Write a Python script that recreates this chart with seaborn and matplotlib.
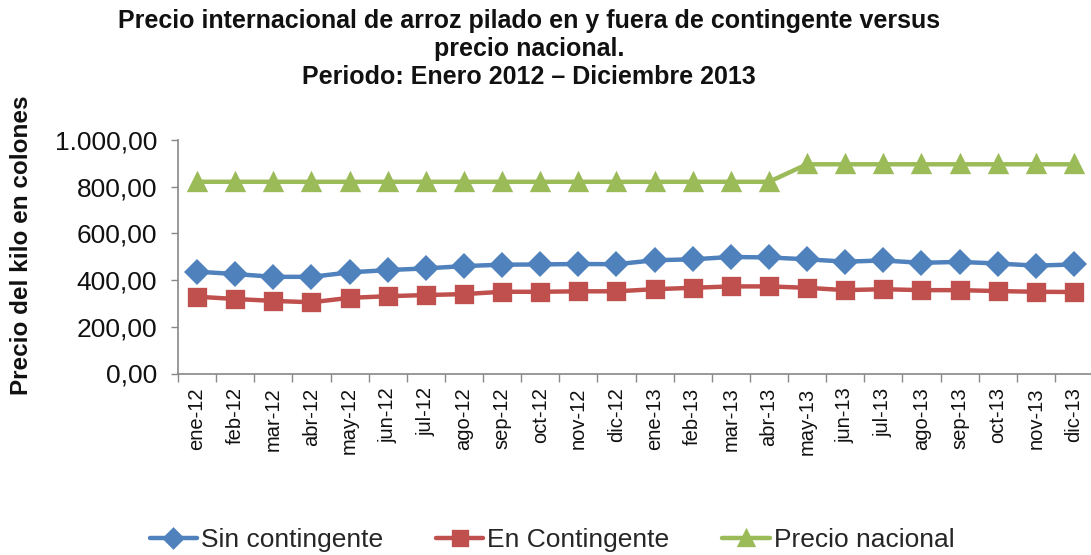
import matplotlib
matplotlib.use("Agg")
import matplotlib.pyplot as plt
import seaborn as sns
import pandas as pd
from matplotlib.ticker import FuncFormatter, FixedLocator

months = ["ene-12", "feb-12", "mar-12", "abr-12", "may-12", "jun-12", "jul-12", "ago-12",
          "sep-12", "oct-12", "nov-12", "dic-12", "ene-13", "feb-13", "mar-13", "abr-13",
          "may-13", "jun-13", "jul-13", "ago-13", "sep-13", "oct-13", "nov-13", "dic-13"]

sin_contingente = [436, 426, 414, 414, 433, 443, 450, 460, 466, 467, 469, 468,
                   485, 489, 499, 497, 489, 479, 484, 474, 478, 471, 462, 467]
en_contingente = [329, 319, 311, 305, 324, 331, 336, 340, 350, 350, 352, 352,
                  361, 367, 373, 373, 367, 357, 361, 357, 357, 353, 350, 349]
precio_nacional = [821] * 16 + [896] * 8

series_names = ["Sin contingente", "En Contingente", "Precio nacional"]
colors = ["#4F81BD", "#C0504D", "#9BBB59"]

df = pd.DataFrame({
    "mes": months * 3,
    "precio": sin_contingente + en_contingente + precio_nacional,
    "serie": [series_names[0]] * 24 + [series_names[1]] * 24 + [series_names[2]] * 24,
})

sns.set_theme(style="white")
plt.rcParams["font.family"] = ["Liberation Sans", "DejaVu Sans"]

W, H = 1091, 555
fig = plt.figure(figsize=(W / 100, H / 100), dpi=100)
ax = fig.add_axes([178 / W, (H - 373.5) / H, (1093 - 178) / W, 233.5 / H])

sns.pointplot(data=df, x="mes", y="precio", hue="serie", order=months,
              hue_order=series_names, palette=colors,
              markers=["D", "s", "^"], linestyles=["-", "-", "-"],
              markersize=12, linewidth=3.2, ax=ax, legend=True)

for line, ms in zip(ax.lines[:3], [13, 14, 15]):
    line.set_markersize(ms)
    line.set_markeredgewidth(0)

ax.set_ylim(0, 1000)
ax.set_xlim(-0.5, 23.5)
ax.set_yticks([0, 200, 400, 600, 800, 1000])
ax.yaxis.set_major_formatter(FuncFormatter(
    lambda v, p: f"{v:,.2f}".replace(",", "X").replace(".", ",").replace("X", ".")))
ax.set_xlabel("")
ax.set_ylabel("")

for s in ["top", "right"]:
    ax.spines[s].set_visible(False)
for s in ["left", "bottom"]:
    ax.spines[s].set_color("#888888")
    ax.spines[s].set_linewidth(1.2)

ax.tick_params(axis="y", which="major", left=True, length=5, width=1, color="#888888",
               direction="out", pad=10, labelsize=19, labelcolor="#111111")
ax.tick_params(axis="x", which="major", length=0, pad=10, labelsize=14.5,
               labelrotation=90, labelcolor="#111111")
ax.xaxis.set_minor_locator(FixedLocator([i - 0.5 for i in range(25)]))
ax.tick_params(axis="x", which="minor", bottom=True, length=6, width=1, color="#888888",
               direction="out")

fig.text(22 / W, 1 - 245 / H, "Precio del kilo en colones", rotation=90,
         ha="center", va="center", fontsize=17.5, fontweight="bold", color="#111111")

fig.text(529 / W, 1 - 9 / H,
         "Precio internacional de arroz pilado en y fuera de contingente versus\n"
         "precio nacional.\nPeriodo: Enero 2012 \u2013 Diciembre 2013",
         ha="center", va="top", fontsize=18, fontweight="bold", color="#111111",
         linespacing=1.22)

handles, labels = ax.get_legend_handles_labels()
ax.legend_.remove()
fig.legend(handles, labels, loc="center", bbox_to_anchor=(552 / W, 1 - 540 / H),
           ncol=3, frameon=False, fontsize=19, handlelength=1.8, handletextpad=0.15,
           columnspacing=2.0, markerscale=0.8)

fig.savefig("out.png", dpi=100)
